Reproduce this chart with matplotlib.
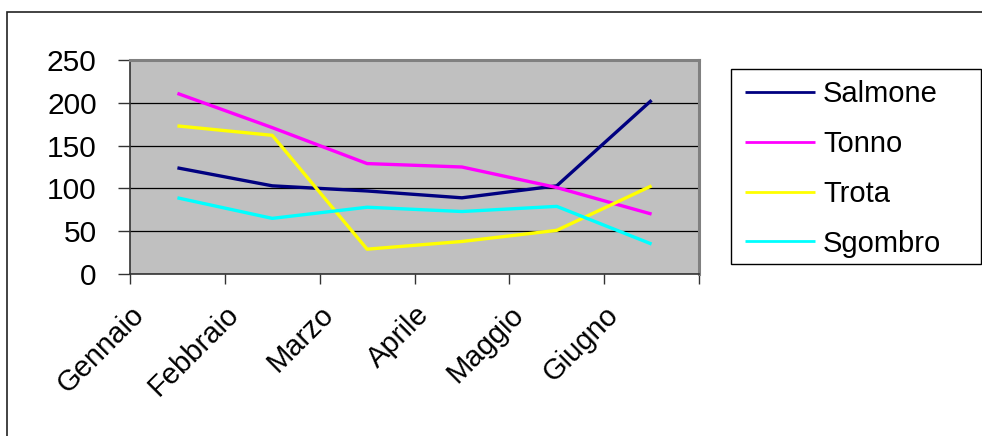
import matplotlib
matplotlib.use("Agg")
import matplotlib.pyplot as plt
from matplotlib.patches import Rectangle

plt.rcParams['font.family'] = ['Liberation Sans', 'DejaVu Sans']

months = ["Gennaio", "Febbraio", "Marzo", "Aprile", "Maggio", "Giugno"]
salmone = [124, 103, 97, 89, 103, 203]
tonno = [211, 171, 129, 125, 101, 70]
trota = [173, 162, 29, 38, 51, 103]
sgombro = [89, 65, 78, 73, 79, 35]
series_names = ["Salmone", "Tonno", "Trota", "Sgombro"]
series_values = [salmone, tonno, trota, sgombro]
colors = ["#000080", "#FF00FF", "#FFFF00", "#00FFFF"]
y_ticks = [0, 50, 100, 150, 200, 250]

W, H = 982, 436
fig = plt.figure(figsize=(W / 100, H / 100), dpi=100)

def fx(px):
    return px / W

def fy(py):
    return 1 - py / H

# outer chart frame (left and top visible)
fig.patches.append(Rectangle((fx(7), fy(470)), fx(1000) - fx(7), fy(12) - fy(470),
                             transform=fig.transFigure, fill=False,
                             edgecolor="#222222", lw=1.2, zorder=0))

ax = fig.add_axes([fx(130), fy(274), fx(699) - fx(130), fy(60) - fy(274)])
ax.set_facecolor("#C0C0C0")

xpos = [i + 0.5 for i in range(len(months))]
lines = []
for name, vals, c in zip(series_names, series_values, colors):
    ln, = ax.plot(xpos, vals, color=c, lw=2.4, label=name, solid_joinstyle='round',
                  solid_capstyle='butt', zorder=3)
    lines.append(ln)

ax.set_xlim(0, len(months))
ax.set_ylim(0, 250)
ax.set_yticks(y_ticks)
ax.set_yticklabels([str(v) for v in y_ticks], fontsize=21.5)
ax.yaxis.grid(True, color="black", lw=0.9)
ax.set_axisbelow(True)

ax.set_xticks(list(range(len(months) + 1)))
ax.set_xticklabels(months + [""], fontsize=21, rotation=45, ha='right', va='top',
                   rotation_mode='anchor')
ax.tick_params(axis='x', direction='out', length=7, width=1, color="#333333", pad=12)
ax.tick_params(axis='y', direction='out', length=9, width=1, color="#333333", pad=15)

for s in ['top', 'right']:
    ax.spines[s].set_color("#808080")
    ax.spines[s].set_linewidth(2.2)
for s in ['left', 'bottom']:
    ax.spines[s].set_color("#333333")
    ax.spines[s].set_linewidth(1.2)

# legend frame
fig.patches.append(Rectangle((fx(731), fy(264)), fx(981) - fx(731), fy(69) - fy(264),
                             transform=fig.transFigure, fill=False,
                             edgecolor="black", lw=1.0, zorder=1))
leg = fig.legend(handles=lines, labels=series_names, loc='upper left',
                 bbox_to_anchor=(fx(745), fy(80)), frameon=False, fontsize=21,
                 handlelength=2.4, handletextpad=0.27, labelspacing=0.75,
                 borderpad=0, borderaxespad=0)
for h in leg.legend_handles:
    h.set_linewidth(2.0)

fig.savefig("out.png", dpi=100)
